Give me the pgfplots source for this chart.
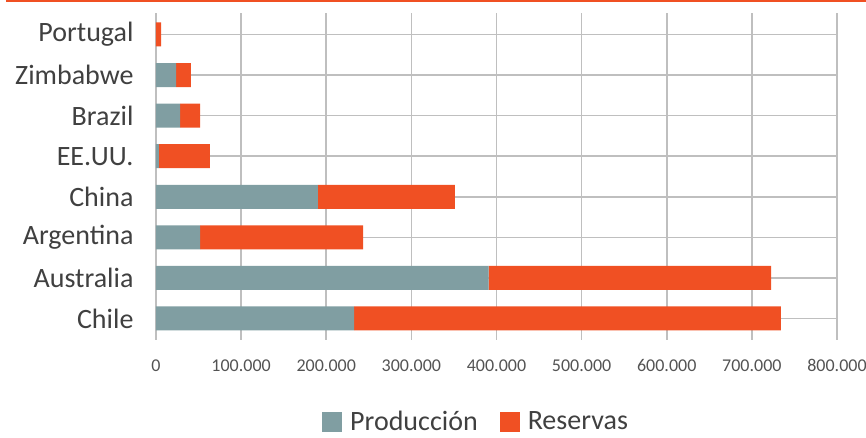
\documentclass[border=0pt]{standalone}
\usepackage{fontspec}
\setmainfont{Carlito}
\usepackage{pgfplots}
\pgfplotsset{compat=1.18}
\definecolor{prod}{HTML}{809EA2}
\definecolor{res}{HTML}{F05023}
\definecolor{txt}{HTML}{404040}
\definecolor{grid}{HTML}{D0D0D0}
\begin{document}
\begin{tikzpicture}[x=1bp,y=1bp]
\path[use as bounding box] (-156,-98) rectangle (710,340);
\draw[res, line width=2bp] (-150,339) -- (710,339);
\begin{axis}[
  at={(0,0)}, anchor=south west,
  scale only axis, width=681bp, height=327bp,
  xbar stacked, bar width=24bp,
  xmin=0, xmax=800000,
  ymin=-0.53, ymax=7.53,
  axis x line*=bottom, axis y line*=left,
  ytick={0,...,7},
  yticklabels={Chile,Australia,Argentina,China,EE.UU.,Brazil,Zimbabwe,Portugal},
  xtick={0,100000,...,800000},
  xticklabels={0,100.000,200.000,300.000,400.000,500.000,600.000,700.000,800.000},
  scaled x ticks=false,
  axis line style={draw=none},
  tick style={draw=none},
  major tick length=0pt,
  xmajorgrids, major grid style={grid, line width=1.6bp},
  yticklabel style={font=\fontsize{28bp}{30bp}\selectfont, text=txt, xshift=-19bp},
  xticklabel style={font=\fontsize{18bp}{20bp}\selectfont, text=txt!90, yshift=-16bp},
  legend style={at={(0.47,-0.25)}, anchor=center, draw=none, fill=none,
    legend columns=2, font=\fontsize{28bp}{30bp}\selectfont, text=txt,
    /tikz/every even column/.append style={column sep=20bp}},
  legend image code/.code={\fill[#1,draw=none] (0bp,-10bp) rectangle (20bp,10bp);\path (26bp,0bp);},
]
\addplot[fill=prod, draw=none] coordinates {
 (232600,0) (390800,1) (51700,2) (190300,3) (3500,4) (28200,5) (23500,6) (0,7)};
\addlegendentry{Producción}
\addplot[fill=res, draw=none] coordinates {
 (501400,0) (331700,1) (191500,2) (160900,3) (59900,4) (23500,5) (17600,6) (5900,7)};
\addlegendentry{Reservas}
\end{axis}
\end{tikzpicture}
\end{document}
